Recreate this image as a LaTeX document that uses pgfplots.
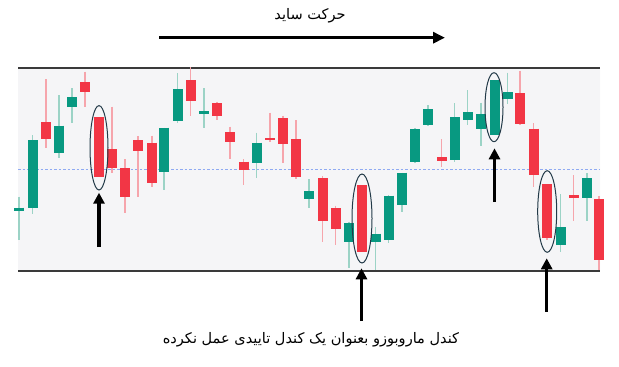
\documentclass[border=0pt]{standalone}
\usepackage{pgfplots}
\pgfplotsset{compat=1.18}
\usepackage{pgfplotstable}
\usetikzlibrary{arrows.meta}
\usepackage{fontspec}
\newfontfamily\arabicfont[Script=Arabic]{DejaVu Sans}
\TeXXeTstate=1
\definecolor{cgreen}{HTML}{089981}
\definecolor{cred}{HTML}{F23645}
\definecolor{wgreen}{HTML}{9CD3C6}
\definecolor{wred}{HTML}{F6A5AC}
\definecolor{band}{HTML}{F5F5F7}
\definecolor{edge}{HTML}{3A3A3A}
\definecolor{dashb}{HTML}{8FAAF2}
\definecolor{ell}{HTML}{233A48}

% x, wick low/high, body low/high (screen y, top = 0)
\pgfplotstableread{
x lo hi bl bh
19 196.7 240 207.7 210.7
32.5 135 214 140 207.7
59 95 158 125.7 152.7
72 88.3 122.7 97.3 107.3
164 127.7 190 127.7 172
177.5 73.3 123.3 89.3 121
204 88.3 127.7 111.3 114
256.5 132.7 177.7 142.7 163.3
309 179 207.7 191 199.3
349 221.7 268.3 222.7 242
375.5 227.3 270 233.7 241.7
388.5 195 242.7 195.7 240
402 172.7 211.7 172.7 205
415 128.3 163.3 129.3 162.3
428 105 126 109.3 125
454.5 103.3 161.7 117.3 160
467.5 90 125 112.3 120
481 102.7 146 114 129.3
494.5 80 135 80 135
507.5 72.7 104.3 92 99
560.5 194 251.7 227.3 245
587 173.3 220.7 178.3 197.7
}\greentab

\pgfplotstableread{
x lo hi bl bh
46 79 148 122.3 139
85 71.7 106.7 82.3 92.3
99 117.3 177 117.3 177
112 106.7 173.3 149 167.7
125 159.3 213.3 168.3 196.7
138 136 196.7 140.3 151
152 135.7 186.7 142.7 183.3
190.7 67.3 116 80 100.7
217 101.7 120 103.3 116
230 126.7 159 132.3 141.7
243.5 159 185 161.7 170
270 112.7 142.3 138 140.3
283 115.7 162.7 118.3 144.3
296 120 179.3 139 177.3
322.5 176 241.7 178.3 220.7
335.5 205.7 245 208.3 229.3
362 185 251.7 185 251.7
441.5 139 167.3 157.3 160.7
520 70.7 125 93.3 124.3
533.5 123.3 186.7 128.7 175
547 184.3 240 184.3 237.7
573.5 175 220.7 195 198.3
599 196 270 199.3 260
}\redtab

\begin{document}
\begin{tikzpicture}
\begin{axis}[scale only axis, width=619bp, height=367bp,
  xmin=0, xmax=619, ymin=0, ymax=367, y dir=reverse,
  hide axis, clip=false]
\path (axis cs:0,0) (axis cs:619,367);
% background band
\addplot[fill=band, draw=none] coordinates {(18,68) (600,68) (600,271) (18,271) (18,68)};
\addplot[edge, line width=1.4bp] coordinates {(18,68) (600,68)};
\addplot[edge, line width=1.4bp] coordinates {(18,271) (600,271)};
\addplot[dashb, line width=1.2bp, dash pattern=on 2.5bp off 2bp] coordinates {(18,169.8) (600,169.8)};
% wicks
\addplot[draw=none, mark=none, error bars/.cd, y dir=plus, y explicit, error mark=none,
  error bar style={draw=wgreen, line width=1.3bp}]
  table[x=x, y=lo, y error plus expr=\thisrow{hi}-\thisrow{lo}, y error minus expr=0] {\greentab};
\addplot[draw=none, mark=none, error bars/.cd, y dir=plus, y explicit, error mark=none,
  error bar style={draw=wred, line width=1.3bp}]
  table[x=x, y=lo, y error plus expr=\thisrow{hi}-\thisrow{lo}, y error minus expr=0] {\redtab};
% bodies
\addplot[draw=none, mark=none, error bars/.cd, y dir=plus, y explicit, error mark=none,
  error bar style={draw=cgreen, line width=10bp, line cap=butt}]
  table[x=x, y=bl, y error plus expr=\thisrow{bh}-\thisrow{bl}, y error minus expr=0] {\greentab};
\addplot[draw=none, mark=none, error bars/.cd, y dir=plus, y explicit, error mark=none,
  error bar style={draw=cred, line width=10bp, line cap=butt}]
  table[x=x, y=bl, y error plus expr=\thisrow{bh}-\thisrow{bl}, y error minus expr=0] {\redtab};
% ellipses
\draw[ell, line width=1bp] (axis cs:99,147.8) ellipse [x radius=9bp, y radius=42.2bp];
\draw[ell, line width=1bp] (axis cs:362,218.5) ellipse [x radius=10bp, y radius=44.5bp];
\draw[ell, line width=1bp] (axis cs:494,107.2) ellipse [x radius=9bp, y radius=34.5bp];
\draw[ell, line width=1bp] (axis cs:547.2,211.5) ellipse [x radius=9.5bp, y radius=40.8bp];
% arrows
\draw[black, line width=3.2bp, -{Triangle[width=11bp,length=11bp]}] (axis cs:99,247) -- (axis cs:99,192.7);
\draw[black, line width=3.2bp, -{Triangle[width=11bp,length=11bp]}] (axis cs:361.5,321) -- (axis cs:361.5,268.3);
\draw[black, line width=3.2bp, -{Triangle[width=11bp,length=11bp]}] (axis cs:494.5,202) -- (axis cs:494.5,148.3);
\draw[black, line width=3.2bp, -{Triangle[width=11bp,length=11bp]}] (axis cs:546.7,311.7) -- (axis cs:546.7,258.3);
\draw[black, line width=3.2bp, -{Triangle[width=11bp,length=12bp]}] (axis cs:159,37.7) -- (axis cs:445,37.7);
% texts
\node[font=\arabicfont\fontsize{14.6}{17}\selectfont] at (axis cs:310,16) {\beginR حرکت ساید\endR};
\node[font=\arabicfont\fontsize{14.6}{17}\selectfont] at (axis cs:311,340) {\beginR کندل ماروبوزو بعنوان یک کندل تاییدی عمل نکرده\endR};
\end{axis}
\end{tikzpicture}
\end{document}
